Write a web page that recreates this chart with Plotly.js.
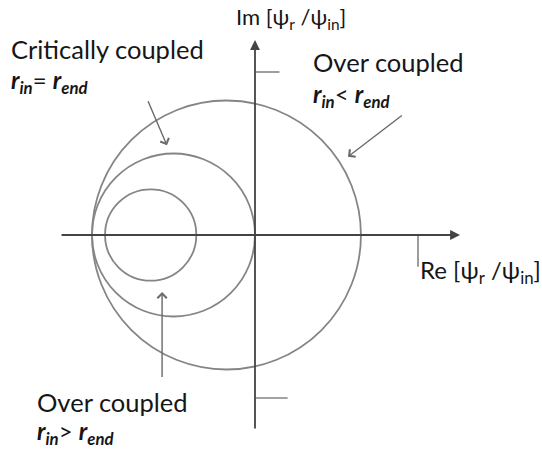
<!DOCTYPE html>
<html>
<head>
<meta charset="utf-8">
<script src="https://cdn.plot.ly/plotly-3.0.1.min.js"></script>
<style>
  html, body { margin: 0; padding: 0; background: #ffffff; }
  #chart { width: 542px; height: 453px; }
</style>
</head>
<body>
<div id="chart"></div>
<script>
// Reflection coefficient circles in the complex plane (Re/Im of psi_r / psi_in)
const circleNames = ['Over coupled, r_in < r_end', 'Critically coupled', 'Over coupled, r_in > r_end'];
const circleCenterRe = [-0.175, -0.5, -0.64];
const circleCenterIm = [0, 0, 0];
const circleRadius = [0.825, 0.5, 0.28];

// Unit marks on the axes
const imTicks = [1, -1];
const reTicks = [1];

// Pointer arrows: tail and head positions in the complex plane
const pointerTailRe = [-0.66, 0.91, -0.57];
const pointerTailIm = [0.83, 0.74, -0.88];
const pointerHeadRe = [-0.54, 0.57, -0.57];
const pointerHeadIm = [0.55, 0.48, -0.35];

// Axis extents
const reAxisMin = -1.196, reAxisMax = 1.258;
const imAxisMin = -1.196, imAxisMax = 1.196;

const lineColor = '#858585';
const textColor = '#161616';
const W = 542, H = 453;

const shapes = [];
for (let i = 0; i < circleRadius.length; i++) {
  shapes.push({
    type: 'circle', xref: 'x', yref: 'y',
    x0: circleCenterRe[i] - circleRadius[i], x1: circleCenterRe[i] + circleRadius[i],
    y0: circleCenterIm[i] - circleRadius[i], y1: circleCenterIm[i] + circleRadius[i],
    line: { color: lineColor, width: 1.8 }
  });
}
imTicks.forEach((t, i) => {
  shapes.push({ type: 'line', xref: 'x', yref: 'y', x0: 0, x1: i === 0 ? 0.15 : 0.2, y0: t, y1: t,
    line: { color: lineColor, width: 1.6 } });
});
reTicks.forEach(t => {
  shapes.push({ type: 'line', xref: 'x', yref: 'y', x0: t, x1: t, y0: 0, y1: -0.195,
    line: { color: lineColor, width: 1.6 } });
});

const annotations = [];
// Axis arrows
annotations.push({ xref: 'x', yref: 'y', axref: 'x', ayref: 'y', x: reAxisMax, y: 0, ax: reAxisMin, ay: 0,
  text: '', showarrow: true, arrowhead: 2, arrowsize: 1.1, arrowwidth: 1.8, arrowcolor: '#444', standoff: 0 });
annotations.push({ xref: 'x', yref: 'y', axref: 'x', ayref: 'y', x: 0, y: imAxisMax, ax: 0, ay: imAxisMin,
  text: '', showarrow: true, arrowhead: 2, arrowsize: 1.1, arrowwidth: 1.8, arrowcolor: '#444', standoff: 0 });
// Pointer arrows
for (let i = 0; i < pointerHeadRe.length; i++) {
  annotations.push({ xref: 'x', yref: 'y', axref: 'x', ayref: 'y',
    x: pointerHeadRe[i], y: pointerHeadIm[i], ax: pointerTailRe[i], ay: pointerTailIm[i],
    text: '', showarrow: true, arrowhead: 4, arrowsize: 1.3, arrowwidth: 1.4, arrowcolor: '#6a6a6a', standoff: 0 });
}

// Text labels placed in pixel space
function label(text, px, py, size) {
  annotations.push({ xref: 'paper', yref: 'paper', x: px / W, y: 1 - py / H,
    xanchor: 'left', yanchor: 'middle', showarrow: false, text: text,
    font: { family: 'Lato, "Open Sans", sans-serif', size: size, color: textColor } });
}
const psiRatio = '[ψ<sub>r</sub> /ψ<sub>in</sub>]';
const rIn = '<b><i>r<sub>in</sub></i></b>';
const rEnd = '<b><i>r<sub>end</sub></i></b>';
label('Im ' + psiRatio, 234, 18, 22);
label('Re ' + psiRatio, 418, 271, 24);
label('Critically coupled', 9, 49, 25.5);
label(rIn + '= ' + rEnd, 9, 81, 24);
label('Over coupled', 311, 62, 25.5);
label(rIn + '< ' + rEnd, 311, 96, 24);
label('Over coupled', 35, 402, 25.5);
label(rIn + '> ' + rEnd, 35, 432, 24);

const pxPerUnit = 163, ox = 255, oy = 235;
const layout = {
  width: W, height: H,
  margin: { l: 0, r: 0, t: 0, b: 0 },
  paper_bgcolor: '#ffffff', plot_bgcolor: '#ffffff',
  showlegend: false,
  xaxis: { range: [-ox / pxPerUnit, (W - ox) / pxPerUnit], visible: false, fixedrange: true },
  yaxis: { range: [-(H - oy) / pxPerUnit, oy / pxPerUnit], visible: false, fixedrange: true },
  shapes: shapes,
  annotations: annotations
};

Plotly.newPlot('chart', [{ x: [], y: [], type: 'scatter', mode: 'lines', hoverinfo: 'skip' }], layout,
  { staticPlot: true, displayModeBar: false });
</script>
</body>
</html>
